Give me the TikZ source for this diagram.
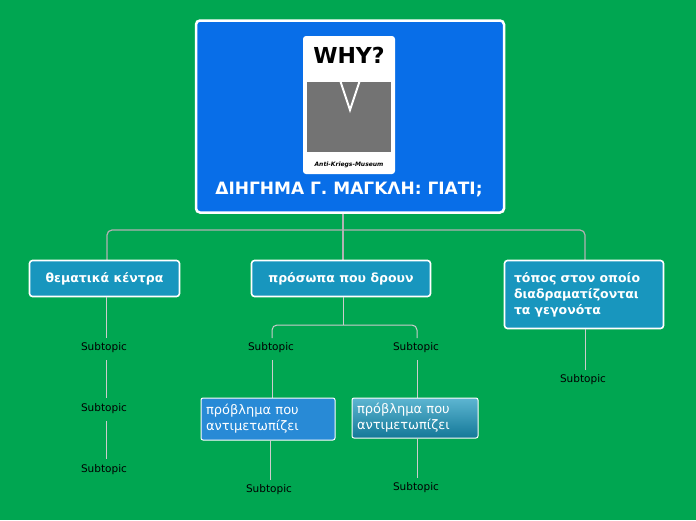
\documentclass[tikz,border=0pt]{standalone}
\usepackage{fontspec}
\setmainfont{DejaVu Sans}
\begin{document}
\begin{tikzpicture}[x=1pt,y=-1pt,
  conn/.style={draw=black!30,line width=1.2pt,rounded corners=5pt},
  topic/.style={draw=white,line width=1.6pt,rounded corners=3pt,fill=teal0,text=white,font=\bfseries\fontsize{12.5}{16}\selectfont},
  sub/.style={font=\fontsize{10.5}{12}\selectfont,inner sep=1pt},
  prob/.style={draw=white,line width=1pt,rounded corners=2pt,text=white,align=left,font=\fontsize{13}{16}\selectfont}]
\definecolor{bg}{RGB}{0,166,81}
\definecolor{rootc}{RGB}{8,110,232}
\definecolor{teal0}{RGB}{24,150,190}
\definecolor{probc}{RGB}{40,138,214}
\fill[bg] (0,0) rectangle (696,520);
% connectors
\coordinate (rb) at (343,213);
\draw[conn] (rb) -- (343,230);
\draw[conn] (107,260) -- (107,230) -- (585,230) -- (585,260);
\draw[conn] (343,230) -- (343,260);
% root
\node[draw=white,line width=2.5pt,rounded corners=4pt,fill=rootc,minimum width=308pt,minimum height=192pt] (root) at (350,116.5) {};
\node[fill=white,rounded corners=3pt,minimum width=92pt,minimum height=138pt] (img) at (349,105) {};
\node[font=\bfseries\fontsize{22}{22}\selectfont] (why) at (349,55) {WHY?};
\fill[black!55] (307,82) rectangle (391,152);
\draw[white,line width=2pt] (340,80) -- (350,110) -- (360,80);
\node[font=\itshape\bfseries\fontsize{6}{6}\selectfont] (am) at (349,165) {Anti-Kriegs-Museum};
\node[text=white,font=\bfseries\fontsize{17}{20}\selectfont] (title) at (349,190) {ΔΙΗΓΗΜΑ Γ. ΜΑΓΚΛΗ: ΓΙΑΤΙ;};
% topics
\node[topic,minimum width=150pt,minimum height=36pt] (t1) at (104.5,278.5) {θεματικά κέντρα};
\node[topic,minimum width=179pt,minimum height=36pt] (t2) at (341,278.5) {πρόσωπα που δρουν};
\node[topic,minimum width=159pt,minimum height=68pt,align=left,text width=140pt] (t3) at (584,294.5) {τόπος στον οποίο\\διαδραματίζονται\\τα γεγονότα};
% subtopics t1
\node[sub] (s11) at (104,348) {Subtopic};
\node[sub] (s12) at (104,409) {Subtopic};
\node[sub] (s13) at (104,470) {Subtopic};
\draw[conn,draw=black!20,line width=1pt] (t1.south -| 106,0) -- (106,338);
\draw[conn,draw=black!20,line width=1pt] (106,360) -- (106,398);
\draw[conn,draw=black!20,line width=1pt] (106,421) -- (106,459);
% t2
\draw[conn,draw=black!20,line width=1pt] (343,297) -- (343,325);
\draw[conn,draw=black!20,line width=1pt] (272,338) -- (272,325) -- (417,325) -- (417,338);
\node[sub] (s21) at (271,348) {Subtopic};
\node[sub] (s22) at (416,348) {Subtopic};
\draw[conn,draw=black!20,line width=1pt] (272,360) -- (272,398);
\draw[conn,draw=black!20,line width=1pt] (417,360) -- (417,398);
\node[prob,fill=probc,minimum width=134pt,minimum height=42pt,text width=124pt] (p1) at (268,419) {πρόβλημα που\\αντιμετωπίζει};
\node[prob,top color=teal0!70!white,bottom color=teal0!80!black,minimum width=126pt,minimum height=40pt,text width=116pt] (p2) at (415,418) {πρόβλημα που\\αντιμετωπίζει};
\draw[conn,draw=black!20,line width=1pt] (270,440) -- (270,480);
\draw[conn,draw=black!20,line width=1pt] (417,438) -- (417,478);
\node[sub] (s31) at (269,490) {Subtopic};
\node[sub] (s32) at (416,488) {Subtopic};
% t3
\draw[conn,draw=black!20,line width=1pt] (585,329) -- (585,370);
\node[sub] (s4) at (583,380) {Subtopic};
\end{tikzpicture}
\end{document}
